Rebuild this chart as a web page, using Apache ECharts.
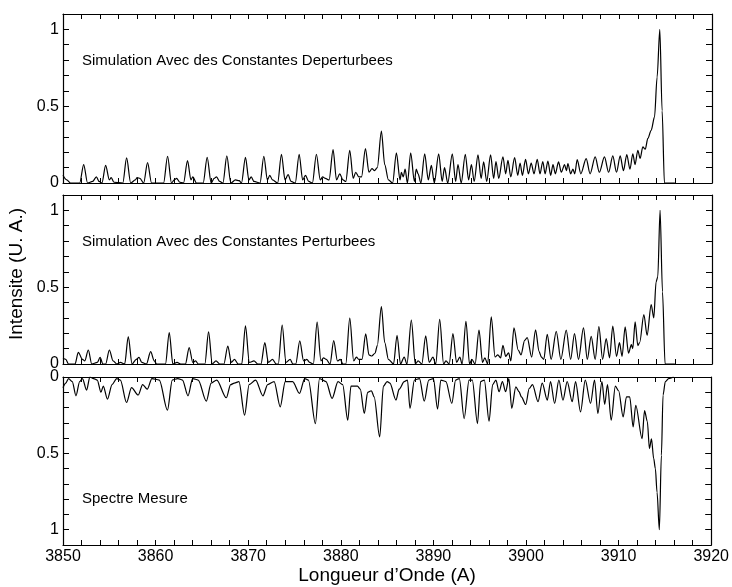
<!DOCTYPE html>
<html>
<head>
<meta charset="utf-8">
<script src="https://cdn.jsdelivr.net/npm/echarts@6/dist/echarts.min.js"></script>
<style>
html,body{margin:0;padding:0;background:#fff;}
#chart{width:732px;height:587px;}
</style>
</head>
<body>
<div id="chart"></div>
<script>
// ---- Data ----
var panelTitles = ['Simulation Avec des Constantes Deperturbees', 'Simulation Avec des Constantes Perturbees', 'Spectre Mesure'];
var xAxisTitle = 'Longueur d\u2019Onde (A)';
var yAxisTitle = 'Intensite (U. A.)';
var xTickLabels = [3850, 3860, 3870, 3880, 3890, 3900, 3910, 3920];
var yTickLabels = [0, 0.5, 1];

var deperturbedSpectrum = [
[3850.0,0.05],[3850.4,0.02],[3850.8,0.0],[3851.8,0.0],[3852.23,0.12],[3852.65,0.0],[3853.2,0.01],[3853.6,0.04],[3853.9,0.01],[3854.2,0.0],[3854.6,0.115],[3855.0,0.02],[3855.2,0.035],[3855.5,0.005],[3856.45,0.0],[3856.86,0.163],[3857.3,0.0],[3857.8,0.02],[3858.0,0.035],[3858.3,0.03],[3858.7,0.0],[3859.12,0.133],[3859.55,0.0],[3860.85,0.0],[3861.28,0.174],[3861.7,0.0],[3862.0,0.02],[3862.25,0.03],[3862.6,0.005],[3863.0,0.0],[3863.43,0.146],[3863.8,0.02],[3864.0,0.04],[3864.4,0.0],[3865.12,0.0],[3865.55,0.167],[3865.98,0.0],[3866.3,0.03],[3866.56,0.04],[3866.9,0.01],[3867.25,0.0],[3867.67,0.176],[3868.1,0.0],[3868.6,0.02],[3869.0,0.015],[3869.25,0.0],[3869.68,0.167],[3870.05,0.02],[3870.3,0.04],[3870.6,0.01],[3871.25,0.0],[3871.66,0.174],[3872.05,0.02],[3872.3,0.05],[3872.6,0.02],[3873.15,0.0],[3873.56,0.187],[3873.95,0.02],[3874.28,0.054],[3874.6,0.01],[3875.05,0.0],[3875.47,0.187],[3875.85,0.02],[3876.15,0.05],[3876.5,0.01],[3876.9,0.0],[3877.33,0.187],[3877.75,0.02],[3878.0,0.04],[3878.3,0.03],[3878.7,0.02],[3879.13,0.217],[3879.5,0.02],[3879.85,0.06],[3880.2,0.02],[3880.5,0.01],[3880.93,0.213],[3881.3,0.03],[3881.57,0.07],[3881.9,0.04],[3882.2,0.04],[3882.62,0.224],[3883.0,0.07],[3883.33,0.093],[3883.6,0.08],[3883.9,0.1],[3884.34,0.337],[3884.7,0.12],[3885.1,0.02],[3885.55,0.0],[3885.96,0.196],[3886.35,0.02],[3886.5,0.07],[3886.7,0.04],[3886.9,0.09],[3887.15,0.0],[3887.5,0.196],[3887.9,0.01],[3888.1,0.09],[3888.3,0.06],[3888.6,0.0],[3889.01,0.19],[3889.4,0.02],[3889.73,0.115],[3890.05,0.0],[3890.52,0.19],[3890.9,0.01],[3891.15,0.1],[3891.5,0.0],[3891.99,0.19],[3892.35,0.01],[3892.6,0.12],[3892.95,0.0],[3893.39,0.187],[3893.75,0.02],[3894.05,0.12],[3894.35,0.01],[3894.76,0.183],[3895.1,0.03],[3895.37,0.137],[3895.7,0.01],[3896.12,0.183],[3896.45,0.03],[3896.7,0.14],[3897.0,0.03],[3897.45,0.17],[3897.75,0.06],[3897.99,0.148],[3898.3,0.04],[3898.71,0.165],[3899.05,0.05],[3899.3,0.13],[3899.55,0.05],[3899.89,0.154],[3900.2,0.06],[3900.5,0.13],[3900.8,0.06],[3901.15,0.154],[3901.45,0.06],[3901.75,0.14],[3902.0,0.06],[3902.3,0.143],[3902.6,0.05],[3902.85,0.12],[3903.1,0.06],[3903.45,0.137],[3903.75,0.07],[3904.1,0.12],[3904.3,0.08],[3904.46,0.126],[3904.75,0.06],[3905.0,0.09],[3905.2,0.06],[3905.46,0.152],[3905.85,0.06],[3906.43,0.159],[3906.85,0.06],[3907.4,0.17],[3907.85,0.07],[3908.4,0.17],[3908.85,0.07],[3909.3,0.176],[3909.7,0.07],[3910.1,0.176],[3910.45,0.08],[3910.81,0.185],[3911.15,0.09],[3911.46,0.19],[3911.7,0.12],[3912.0,0.213],[3912.25,0.16],[3912.54,0.235],[3912.8,0.22],[3913.08,0.29],[3913.44,0.343],[3913.8,0.43],[3914.08,0.69],[3914.37,1.0],[3914.62,0.47],[3914.87,0.0],[3916.0,0.0]
];

var perturbedSpectrum = [
[3850.0,0.037],[3850.3,0.03],[3850.6,0.0],[3851.3,0.0],[3851.65,0.076],[3852.1,0.03],[3852.35,0.02],[3852.73,0.091],[3853.1,0.0],[3853.7,0.01],[3854.0,0.043],[3854.3,0.0],[3854.6,0.0],[3855.0,0.091],[3855.4,0.02],[3855.8,0.0],[3856.2,0.01],[3856.65,0.0],[3857.04,0.178],[3857.45,0.0],[3857.9,0.03],[3858.2,0.043],[3858.5,0.01],[3859.0,0.0],[3859.45,0.08],[3859.85,0.02],[3860.1,0.0],[3861.05,0.0],[3861.46,0.204],[3861.85,0.0],[3862.3,0.01],[3862.7,0.0],[3863.2,0.0],[3863.61,0.107],[3864.0,0.01],[3864.3,0.02],[3864.6,0.0],[3865.3,0.0],[3865.7,0.209],[3866.1,0.0],[3866.5,0.02],[3866.9,0.0],[3867.35,0.0],[3867.78,0.117],[3868.15,0.01],[3868.5,0.03],[3868.9,0.0],[3869.28,0.0],[3869.68,0.248],[3870.1,0.01],[3870.6,0.02],[3871.0,0.0],[3871.35,0.0],[3871.77,0.139],[3872.15,0.01],[3872.6,0.03],[3873.0,0.0],[3873.22,0.0],[3873.64,0.254],[3874.05,0.01],[3874.5,0.03],[3874.8,0.0],[3875.1,0.0],[3875.54,0.15],[3875.95,0.02],[3876.3,0.03],[3876.6,0.01],[3877.0,0.0],[3877.41,0.272],[3877.82,0.02],[3878.1,0.04],[3878.4,0.03],[3878.8,0.0],[3879.2,0.152],[3879.6,0.02],[3879.9,0.03],[3880.2,0.0],[3880.5,0.0],[3880.93,0.298],[3881.35,0.02],[3881.65,0.045],[3881.9,0.03],[3882.25,0.03],[3882.65,0.196],[3883.0,0.06],[3883.3,0.052],[3883.65,0.07],[3883.9,0.12],[3884.34,0.374],[3884.7,0.14],[3885.1,0.03],[3885.65,0.0],[3886.03,0.187],[3886.4,0.0],[3886.8,0.045],[3887.1,0.0],[3887.57,0.285],[3888.0,0.0],[3888.3,0.02],[3888.7,0.0],[3889.12,0.183],[3889.5,0.01],[3889.9,0.045],[3890.2,0.0],[3890.63,0.291],[3891.05,0.0],[3891.3,0.02],[3891.65,0.0],[3892.06,0.198],[3892.45,0.01],[3892.8,0.045],[3893.05,0.0],[3893.46,0.278],[3893.85,0.0],[3894.1,0.03],[3894.45,0.0],[3894.87,0.22],[3895.25,0.01],[3895.5,0.04],[3895.8,0.0],[3896.19,0.307],[3896.6,0.046],[3896.9,0.06],[3897.2,0.04],[3897.45,0.122],[3897.75,0.05],[3898.06,0.072],[3898.3,0.02],[3898.64,0.235],[3899.1,0.09],[3899.4,0.06],[3899.79,0.154],[3900.07,0.172],[3900.55,0.045],[3900.97,0.222],[3901.35,0.08],[3901.6,0.045],[3901.85,0.03],[3902.23,0.193],[3902.65,0.03],[3903.2,0.213],[3903.7,0.03],[3904.28,0.22],[3904.75,0.03],[3905.17,0.198],[3905.6,0.03],[3906.14,0.235],[3906.55,0.03],[3906.97,0.18],[3907.4,0.03],[3907.8,0.243],[3908.2,0.03],[3908.59,0.165],[3908.95,0.04],[3909.3,0.246],[3909.7,0.05],[3910.02,0.139],[3910.3,0.05],[3910.63,0.241],[3911.0,0.07],[3911.3,0.126],[3911.45,0.1],[3911.71,0.274],[3912.0,0.12],[3912.2,0.14],[3912.65,0.322],[3913.0,0.187],[3913.44,0.387],[3913.72,0.3],[3913.97,0.535],[3914.15,0.567],[3914.4,1.0],[3914.66,0.47],[3914.94,0.0],[3916.0,0.0]
];

var measuredSpectrum = [
[3850.0,0.07],[3850.3,0.04],[3850.6,0.01],[3851.0,0.03],[3851.4,0.123],[3851.8,0.03],[3852.1,0.01],[3852.55,0.086],[3852.9,0.0],[3853.3,0.01],[3853.7,0.02],[3854.1,0.1],[3854.35,0.06],[3854.8,0.145],[3855.3,0.05],[3855.8,0.01],[3856.2,0.02],[3856.86,0.167],[3857.4,0.07],[3858.12,0.118],[3858.6,0.05],[3859.1,0.08],[3859.6,0.01],[3860.4,0.02],[3861.28,0.217],[3861.8,0.02],[3862.4,0.01],[3862.9,0.02],[3863.5,0.123],[3864.0,0.01],[3864.6,0.02],[3865.48,0.158],[3866.0,0.04],[3866.6,0.02],[3867.64,0.136],[3868.1,0.05],[3868.5,0.04],[3869.0,0.03],[3869.61,0.25],[3870.1,0.05],[3870.8,0.02],[3871.59,0.123],[3872.1,0.05],[3872.8,0.03],[3873.46,0.195],[3874.0,0.03],[3874.8,0.03],[3875.54,0.107],[3876.1,0.01],[3876.5,0.02],[3877.26,0.305],[3877.7,0.01],[3878.4,0.03],[3879.06,0.14],[3879.7,0.03],[3880.2,0.05],[3880.75,0.283],[3881.1,0.06],[3881.8,0.06],[3882.1,0.08],[3882.54,0.239],[3882.9,0.1],[3883.3,0.09],[3883.6,0.13],[3884.2,0.393],[3884.6,0.06],[3885.0,0.03],[3885.3,0.04],[3885.96,0.151],[3886.3,0.08],[3886.85,0.03],[3887.2,0.02],[3887.47,0.206],[3887.95,0.02],[3888.5,0.01],[3889.01,0.158],[3889.5,0.02],[3890.0,0.01],[3890.45,0.21],[3890.8,0.02],[3891.35,0.03],[3891.99,0.173],[3892.4,0.02],[3892.8,0.01],[3893.32,0.272],[3893.85,0.02],[3894.2,0.02],[3894.76,0.305],[3895.1,0.03],[3895.5,0.02],[3896.01,0.289],[3896.4,0.05],[3896.75,0.02],[3897.09,0.096],[3897.45,0.03],[3897.8,0.096],[3898.15,0.01],[3898.46,0.206],[3898.9,0.065],[3899.25,0.096],[3899.5,0.13],[3899.97,0.18],[3900.35,0.075],[3900.7,0.05],[3901.3,0.162],[3901.75,0.04],[3902.3,0.151],[3902.65,0.03],[3903.09,0.173],[3903.55,0.02],[3903.99,0.151],[3904.45,0.03],[3904.99,0.162],[3905.35,0.03],[3905.89,0.228],[3906.4,0.02],[3906.97,0.173],[3907.4,0.02],[3907.76,0.239],[3908.2,0.03],[3908.5,0.18],[3908.8,0.05],[3909.2,0.283],[3909.65,0.06],[3910.0,0.09],[3910.49,0.261],[3910.85,0.13],[3911.2,0.13],[3911.57,0.327],[3911.85,0.185],[3912.54,0.404],[3912.8,0.22],[3913.1,0.29],[3913.33,0.469],[3913.55,0.405],[3913.79,0.535],[3913.97,0.6],[3914.15,0.754],[3914.4,1.0],[3914.62,0.513],[3914.8,0.118],[3915.05,0.03],[3915.4,0.01],[3915.95,0.0]
];

// ---- Chart construction ----
var FONT = '"Liberation Sans", Arial, Helvetica, sans-serif';
var grids = [
  {left: 63, right: 20, top: 14, height: 169},
  {left: 63, right: 20, top: 195, height: 169},
  {left: 63, right: 20, top: 377, height: 168}
];
var spectra = [deperturbedSpectrum, perturbedSpectrum, measuredSpectrum];
var titleY = [61, 242, 499];

function near(v, list) {
  for (var i = 0; i < list.length; i++) if (Math.abs(v - list[i]) < 1e-6) return list[i];
  return null;
}

var xAxes = [], yAxes = [], series = [];
for (var g = 0; g < 3; g++) {
  ['bottom', 'top'].forEach(function (pos) {
    var withLabels = (g === 2 && pos === 'bottom');
    xAxes.push({
      type: 'value', gridIndex: g, position: pos,
      min: 3850, max: 3920, interval: 2,
      axisLine: {show: true, onZero: false, lineStyle: {color: '#000', width: 1.2}},
      axisTick: {show: true, inside: true, length: 5, lineStyle: {color: '#000', width: 1}},
      splitLine: {show: false},
      axisLabel: {
        show: withLabels, margin: 4, color: '#000', fontSize: 16, fontFamily: FONT,
        formatter: function (v) { var n = near(v, xTickLabels); return n === null ? '' : String(n); }
      }
    });
  });
  ['left', 'right'].forEach(function (pos) {
    yAxes.push({
      type: 'value', gridIndex: g, position: pos,
      min: 0, max: 1.1, interval: 0.1, inverse: g === 2,
      axisLine: {show: true, onZero: false, lineStyle: {color: '#000', width: 1.2}},
      axisTick: {show: true, inside: true, length: 6, lineStyle: {color: '#000', width: 1}},
      splitLine: {show: false},
      axisLabel: {
        show: pos === 'left', margin: 4, color: '#000', fontSize: 16, fontFamily: FONT,
        formatter: function (v) { var n = near(v, yTickLabels); return n === null ? '' : String(n); }
      }
    });
  });
  series.push({
    type: 'line', xAxisIndex: g * 2, yAxisIndex: g * 2,
    data: spectra[g], showSymbol: false, symbol: 'none',
    smooth: 0.3, smoothMonotone: 'x',
    lineStyle: {color: '#000', width: 1.2}, clip: true
  });
}

var graphics = [];
for (var k = 0; k < 3; k++) {
  graphics.push({
    type: 'text', x: 82, y: titleY[k],
    style: {text: panelTitles[k], fill: '#000', font: '15px ' + FONT, textAlign: 'left', textVerticalAlign: 'middle'}
  });
}
graphics.push({
  type: 'text', x: 387, y: 576,
  style: {text: xAxisTitle, fill: '#000', font: '19px ' + FONT, textAlign: 'center', textVerticalAlign: 'middle'}
});
graphics.push({
  type: 'text', x: 17, y: 274, rotation: Math.PI / 2,
  style: {text: yAxisTitle, fill: '#000', font: '19px ' + FONT, textAlign: 'center', textVerticalAlign: 'middle'}
});

var chart = echarts.init(document.getElementById('chart'), null, {renderer: 'canvas'});
chart.setOption({
  animation: false,
  backgroundColor: '#fff',
  grid: grids,
  xAxis: xAxes,
  yAxis: yAxes,
  series: series,
  graphic: graphics
});
</script>
</body>
</html>
